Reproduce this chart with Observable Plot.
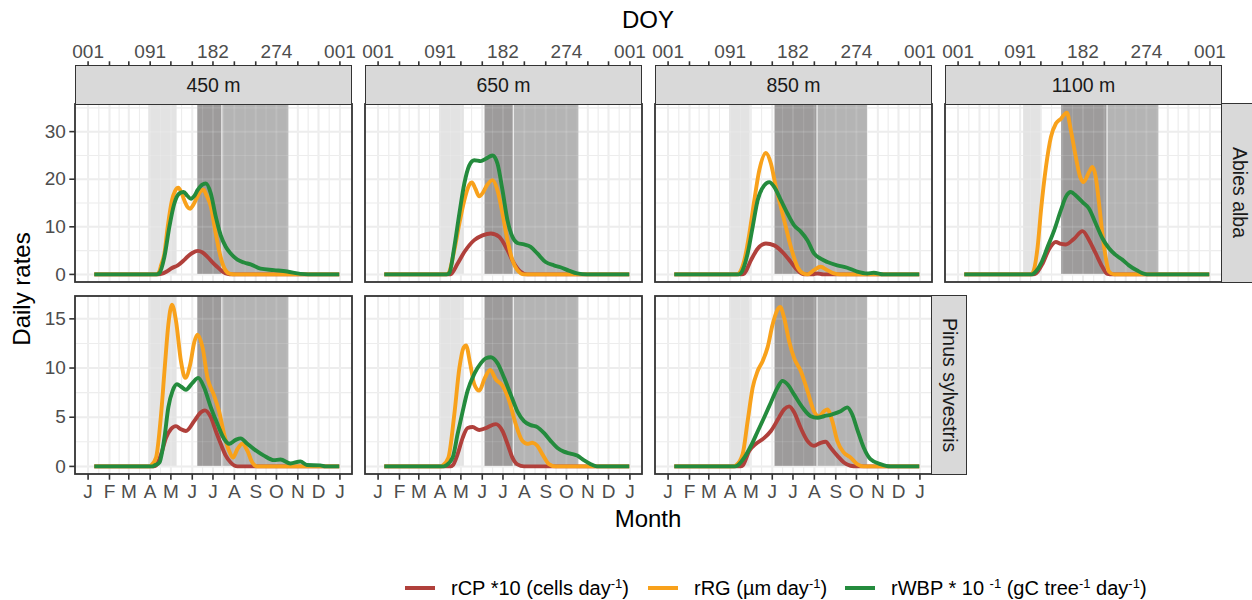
<!DOCTYPE html>
<html>
<head>
<meta charset="utf-8">
<script src="https://cdn.jsdelivr.net/npm/d3@7"></script>
<script src="https://cdn.jsdelivr.net/npm/@observablehq/plot@0.6"></script>
<style>
  body { margin: 0; background: #fff; }
  #chart { position: relative; width: 1252px; height: 600px; overflow: hidden;
           font-family: "Liberation Sans", Arial, Helvetica, sans-serif; background: #fff; }
  #chart svg { position: absolute; overflow: visible; }
  .strip { position: absolute; box-sizing: border-box; background: #d9d9d9; border: 1.8px solid #333;
           color: #1a1a1a; font-size: 19.5px; display: flex; align-items: center; justify-content: center; }
  .strip.right { writing-mode: vertical-rl; }
  .title { position: absolute; font-size: 24px; color: #000; white-space: nowrap; transform: translate(-50%, -50%); }
  .legend-key { position: absolute; width: 30px; height: 4px; }
  .legend-text { position: absolute; font-size: 20px; color: #000; white-space: nowrap; transform: translateY(-50%); }
  .legend-text sup { font-size: 13px; vertical-align: 7px; }
</style>
</head>
<body>
<div id="chart"></div>
<script>
// ---- facets ----
const elevations = ["450 m", "650 m", "850 m", "1100 m"];
const species = ["Abies alba", "Pinus sylvestris"];

// ---- series ----
const seriesNames = ["rCP", "rRG", "rWBP"];
const seriesColors = ["#b0403b", "#f8a11b", "#248b3d"];

// ---- axes ----
const monthStarts = [1, 32, 60, 91, 121, 152, 182, 213, 244, 274, 305, 335, 366];
const monthLabels = ["J", "F", "M", "A", "M", "J", "J", "A", "S", "O", "N", "D", "J"];
const doyBreaks = [1, 91, 182, 274, 366];
const doyLabels = ["001", "091", "182", "274", "001"];
const yBreaks = [[0, 10, 20, 30], [0, 5, 10, 15]];
const yLimits = [[0, 34], [0, 16.45]];

// ---- shaded phases per elevation (DOY start, end) ----
const shadeLight = [[89, 130], [90, 126], [90, 120], [96, 121]];
const shadeDark = [[160, 195], [156, 197], [156, 217], [151, 217]];
const shadeMid = [[195, 292], [197, 292], [217, 290], [217, 292]];

// ---- daily rates, [DOY, value]; Abies alba ----
const abies_rCP = [
  [[10,0],[100,0],[107,0.1],[115,0.6],[122,1.3],[131,1.9],[140,3.0],[145,3.7],[152,4.5],[160,4.95],[167,4.6],[174,3.7],[181,2.6],[188,1.6],[195,0.7],[203,0.1],[210,0],[365,0]],
  [[10,0],[104,0],[106.7,0.1],[116.3,2.3],[126,4.7],[140.4,7.2],[152.4,8.2],[164.4,8.6],[176.5,7.9],[188.5,5.1],[198.1,2.3],[207.7,0.55],[217.3,0],[365,0]],
  [[10,0],[108,0],[111.5,0.2],[121.2,3.0],[130.8,5.4],[142.8,6.5],[154.8,6.1],[166.8,4.7],[178.9,2.6],[188.5,0.9],[198.1,0],[210,0],[217.3,0.2],[226,0],[365,0]],
  [[10,0],[110,0],[113.9,0.2],[123.6,2.3],[133.2,5.4],[142.8,6.8],[150,6.4],[157.2,6.3],[169.2,7.5],[181.3,9.1],[190.9,7.2],[200.5,4.4],[210.1,1.6],[217.3,0.1],[225,0],[365,0]]
];
const abies_rRG = [
  [[10,0],[100,0],[104,0.5],[107,2],[111.6,4.4],[116.4,10],[122.6,15.6],[127,17.5],[131.8,18.2],[136,17.3],[140.4,15.6],[145,14.2],[149,13.8],[153,14.5],[157,15.6],[163,17.3],[168,17.8],[173,16.5],[179,14.2],[186,8.6],[193,3.7],[200,0.9],[207,0.1],[214,0],[365,0]],
  [[10,0],[100,0],[102.9,0.2],[111.5,5.1],[118.8,10.7],[126,15.6],[133,18.8],[137,19.3],[142,18.0],[147.6,16.4],[153,17.2],[158.7,18.7],[166.8,19.8],[174,17.7],[181.3,12.8],[188.5,7.2],[195.7,3.0],[202.9,0.9],[212.5,0],[365,0]],
  [[10,0],[101,0],[104.3,0.3],[111.5,3.0],[118.8,8.6],[126,15.6],[133.2,21.9],[142.8,25.5],[150,23.3],[157.2,18.4],[164.4,14.2],[171.6,10],[178.9,5.8],[188.5,1.6],[197.1,0.2],[202.9,0],[212.5,0.9],[222.1,1.6],[231.8,0.9],[241.4,0.2],[250,0],[365,0]],
  [[10,0],[106,0],[109.1,0.3],[116.3,5.8],[121.2,13.5],[128.4,22.6],[135.6,28.9],[142.8,31.7],[150,32.7],[158.7,34.0],[164.4,30.3],[171.6,24.7],[177.9,20.5],[182.7,19.4],[190.9,21.5],[195.7,22.6],[200.5,20.5],[205.3,14.9],[210.1,8.6],[214.9,3.7],[219.7,0.6],[226.9,0],[365,0]]
];
const abies_rWBP = [
  [[10,0],[100,0],[104.4,0.3],[111.6,3.7],[118.8,10],[126,14.9],[133.2,17],[139.5,17.3],[145,16.5],[150,15.9],[155,16.5],[159.7,17.7],[166,18.8],[171.7,19.1],[178.9,17],[186.1,12.1],[193.3,8.2],[200.5,5.8],[207.7,4.4],[217.4,3.1],[227,2.5],[236.6,2.1],[251,1.2],[270.3,0.9],[289.5,0.6],[308.7,0.1],[320,0],[365,0]],
  [[10,0],[100,0],[104.3,0.3],[111.5,5.8],[118.8,12.8],[126,19.1],[133.2,22.9],[140.4,24],[150,23.8],[157.2,24.3],[166.8,25],[174,23.3],[181.3,17.7],[188.5,11.4],[195.7,7.9],[202.9,6.6],[212.5,6.3],[222.1,5.8],[231.8,4.4],[243.8,2.6],[255.8,1.9],[265.4,1.5],[277.4,0.8],[289.5,0.2],[303.9,0],[365,0]],
  [[10,0],[103,0],[106.7,0.3],[116.3,4.4],[123.6,10],[130.8,15.6],[140.4,18.7],[147.6,19.4],[154.8,18.4],[164.4,15.6],[174,12.8],[183.7,10.3],[193.3,9.0],[202.9,7.2],[212.5,4.4],[222.1,3.3],[231.8,2.6],[246.2,1.9],[260.6,1.4],[275,0.6],[289.5,0.2],[299.1,0.35],[313.5,0],[365,0]],
  [[10,0],[108,0],[111.5,0.3],[121.2,2.3],[130.8,5.8],[140.4,9.3],[150,13.5],[157.2,16.3],[164.4,17.3],[171.6,16.6],[181.3,15.2],[190.9,13.8],[200.5,10.7],[210.1,7.6],[219.7,5.5],[229.3,4.1],[239,3.1],[248.6,1.9],[260.6,0.8],[275,0],[365,0]]
];

// ---- daily rates, [DOY, value]; Pinus sylvestris (no 1100 m stand) ----
const pinus_rCP = [
  [[10,0],[96,0],[99.5,0.1],[106.8,1.25],[114,2.9],[121.2,3.8],[128.4,4.1],[135,3.8],[142.8,3.6],[154.8,4.6],[164.5,5.5],[170.2,5.7],[178.9,5.0],[186.1,3.6],[193.3,2.3],[200.5,1.1],[207.7,0.4],[217.4,0],[365,0]],
  [[10,0],[106,0],[109.1,0.1],[116.3,1.25],[123.6,2.9],[130.8,3.9],[138,4.0],[147.6,3.7],[157.2,3.9],[171.6,4.3],[181.3,3.6],[188.5,2.3],[195.7,0.9],[202.9,0.2],[212.5,0],[365,0]],
  [[10,0],[106,0],[109.1,0.1],[118.8,1.6],[128.4,2.3],[140.4,2.9],[150,3.6],[162,5.0],[169.2,5.8],[176.5,6.1],[183.7,5.5],[193.3,3.9],[202.9,2.6],[212.5,2.1],[222.1,2.4],[229.3,2.5],[236.6,1.9],[246.2,1.1],[255.8,0.4],[265.4,0.07],[275,0],[365,0]]
];
const pinus_rRG = [
  [[10,0],[90,0],[92.3,0.1],[99.5,0.9],[106.8,5.3],[112.5,10.4],[117.3,14.4],[122.6,16.45],[128.4,14.8],[135.6,10.7],[141.9,9.0],[149.1,10.4],[154.8,12.6],[159.7,13.4],[166.9,12.1],[174.1,9.0],[183.7,7.2],[190.9,5.6],[198.1,3.3],[205.3,1.6],[211.1,0.9],[217.4,1.76],[224.6,2.3],[231.8,1.6],[239,0.4],[246.2,0],[365,0]],
  [[10,0],[92,0],[94.7,0.1],[102.9,0.9],[111.5,5.3],[118.8,10.0],[125,12.1],[128.4,12.3],[134.6,10.4],[140.4,8.35],[147.6,7.7],[155.8,9.0],[163.5,9.8],[171.6,8.85],[181.3,8.2],[190.9,6.7],[200.5,4.3],[210.1,2.6],[217.3,2.3],[224.5,2.4],[231.8,2.1],[239,1.25],[248.6,0.24],[258.2,0],[365,0]],
  [[10,0],[96,0],[99.5,0.1],[109.1,1.25],[116.3,4.6],[123.6,8.0],[130.8,9.7],[138,10.7],[145.2,12.1],[152.4,14.4],[158.7,15.8],[163.5,16.2],[169.2,15.1],[176.5,12.7],[183.7,11.0],[193.3,9.7],[202.9,7.7],[212.5,5.6],[219.7,5.1],[226.9,5.6],[231.8,5.8],[239,4.6],[246.2,2.6],[255.8,1.4],[265.4,0.9],[275,0.24],[284.6,0],[365,0]]
];
const pinus_rWBP = [
  [[10,0],[94,0],[97.1,0.1],[104.4,0.4],[111.6,2.9],[117.3,6.0],[123.6,7.7],[129.8,8.35],[136,8.1],[142.8,7.8],[152.4,8.5],[160.6,9.0],[169.3,8.0],[178.9,6.0],[188.5,4.3],[198.1,2.8],[205.3,2.3],[215,2.7],[222.2,2.85],[231.8,2.3],[241.4,1.76],[255.8,1.1],[270.2,0.64],[279.9,0.7],[294.3,0.3],[308.7,0.5],[318.3,0.14],[337.6,0.1],[345,0],[365,0]],
  [[10,0],[96,0],[99.5,0.1],[109.1,0.9],[116.3,3.3],[123.6,5.6],[130.8,7.7],[140.4,9.4],[150,10.5],[157.2,11.0],[164.4,11.1],[174,10.5],[183.7,9.0],[193.3,7.3],[202.9,5.6],[212.5,4.6],[222.1,4.2],[231.8,4.0],[241.4,3.4],[251,2.6],[260.6,1.9],[270.2,1.5],[279.8,1.3],[289.5,1.1],[299.1,0.64],[308.7,0.24],[318.3,0],[365,0]],
  [[10,0],[98,0],[101.9,0.1],[111.5,0.9],[121.2,2.1],[130.8,3.55],[140.4,5.0],[150,6.5],[159.6,8.0],[166.8,8.7],[174,8.35],[183.7,7.3],[195.7,6.0],[207.7,5.1],[217.3,4.95],[226.9,5.1],[239,5.3],[251,5.6],[260.6,6.0],[267.8,5.3],[275,3.8],[284.6,1.9],[294.3,0.74],[308.7,0.24],[323.1,0],[365,0]]
];

const seriesBySpecies = [
  [abies_rCP, abies_rRG, abies_rWBP],
  [pinus_rCP, pinus_rRG, pinus_rWBP]
];

// ---- layout ----
const chart = document.getElementById("chart");
const font = '"Liberation Sans", Arial, Helvetica, sans-serif';
const colLeft = [75, 365, 655, 945];
const panelW = 277, panelH = 178;
const rowTop = [104, 296];
const stripTop = 66;

// ggplot-style 5% expansion of the data range
const expand = ([a, b]) => [a - 0.05 * (b - a), b + 0.05 * (b - a)];
const xDomain = expand([1, 366]);
const mid = (arr) => arr.slice(1).map((v, i) => (v + arr[i]) / 2);
const xMinor = mid(monthStarts);
const doyMap = new Map(doyBreaks.map((d, i) => [d, doyLabels[i]]));
const monthMap = new Map(monthStarts.map((d, i) => [d, monthLabels[i]]));

function drawPanel(r, c) {
  const yDomain = expand(yLimits[r]);
  const majors = yBreaks[r];
  const step = majors[1] - majors[0];
  const yMinor = d3.range(majors[0] + step / 2, yDomain[1], step);
  const mL = c === 0 ? 75 : 24, mR = 24;
  const svgTop = r === 0 ? 0 : rowTop[1] - 4;
  const frameTop = rowTop[r] - svgTop;
  const frameBottom = frameTop + panelH;
  const mT = r === 0 ? stripTop : 4;
  const mB = r === 0 ? 4 : 44;
  const [yLo, yHi] = yDomain;

  const vGrid = (vals, sw, stroke, op) => Plot.ruleX(vals.map(v => ({v, lo: yLo, hi: yHi})),
    {x: "v", y1: "lo", y2: "hi", stroke, strokeWidth: sw, strokeOpacity: op});
  const hGrid = (vals, sw, stroke, op) => Plot.ruleY(vals.map(v => ({v, lo: xDomain[0], hi: xDomain[1]})),
    {y: "v", x1: "lo", x2: "hi", stroke, strokeWidth: sw, strokeOpacity: op});

  const shades = [
    {x1: shadeLight[c][0], x2: shadeLight[c][1], fill: "#e3e3e3"},
    {x1: shadeMid[c][0], x2: shadeMid[c][1], fill: "#b4b4b4"},
    {x1: shadeDark[c][0], x2: shadeDark[c][1], fill: "#9d9b9b"}
  ].map(d => ({...d, y1: 0, y2: yHi}));

  const marks = [
    vGrid(xMinor, 1.1, "#ebebeb", 1),
    hGrid(yMinor, 1.1, "#ebebeb", 1),
    vGrid(monthStarts, 2, "#ebebeb", 1),
    hGrid(majors, 2, "#ebebeb", 1),
    Plot.rect(shades, {x1: "x1", x2: "x2", y1: "y1", y2: "y2", fill: "fill"}),
    vGrid(xMinor, 1.1, "#ffffff", 0.12),
    hGrid(yMinor, 1.1, "#ffffff", 0.12),
    vGrid(monthStarts, 2, "#ffffff", 0.12),
    hGrid(majors, 2, "#ffffff", 0.12),
    Plot.ruleX([{v: shadeDark[c][1], lo: 0, hi: yHi}], {x: "v", y1: "lo", y2: "hi", stroke: "#ffffff", strokeWidth: 1, strokeOpacity: 0.85})
  ];

  seriesBySpecies[r].forEach((series, k) => {
    marks.push(Plot.line(series[c], {
      x: d => d[0], y: d => d[1], stroke: seriesColors[k], strokeWidth: 3.9,
      curve: "monotone-x", strokeLinejoin: "round", strokeLinecap: "butt"
    }));
  });

  marks.push(Plot.rect([{x1: xDomain[0], x2: xDomain[1], y1: yLo, y2: yHi}],
    {x1: "x1", x2: "x2", y1: "y1", y2: "y2", fill: "none", stroke: "#333333", strokeWidth: 1.8}));

  const axisStyle = {tickSize: 5.7, stroke: "#333333", fill: "#4d4d4d", strokeWidth: 1.6, fontSize: 19, label: null};
  if (c === 0) {
    marks.push(Plot.axisY({...axisStyle, anchor: "left", ticks: majors, tickPadding: 4}));
  }
  if (r === 0) {
    marks.push(Plot.axisX({...axisStyle, anchor: "top", ticks: monthStarts, tickPadding: 3,
      tickFormat: d => doyMap.get(d) ?? ""}));
  } else {
    marks.push(Plot.axisX({...axisStyle, anchor: "bottom", ticks: monthStarts, tickPadding: 4,
      tickFormat: d => monthMap.get(d) ?? ""}));
  }

  const svg = Plot.plot({
    width: mL + panelW + mR,
    height: frameBottom + mB,
    marginLeft: mL, marginRight: mR, marginTop: mT, marginBottom: mB,
    x: {domain: xDomain},
    y: {domain: yDomain, range: [frameBottom, frameTop], ...(c === 0 ? {} : {axis: null})},
    style: {fontFamily: font, fontSize: "19px", background: "transparent", overflow: "visible"},
    marks
  });
  svg.style.left = (colLeft[c] - mL) + "px";
  svg.style.top = svgTop + "px";
  chart.appendChild(svg);
}

const panels = [[0, 0], [0, 1], [0, 2], [0, 3], [1, 0], [1, 1], [1, 2]];
panels.forEach(([r, c]) => drawPanel(r, c));

// ---- strips ----
function addDiv(cls, css, html) {
  const el = document.createElement("div");
  el.className = cls;
  Object.assign(el.style, css);
  el.innerHTML = html;
  chart.appendChild(el);
  return el;
}
elevations.forEach((e, c) => addDiv("strip", {left: colLeft[c] + "px", top: (stripTop - 1) + "px",
  width: panelW + "px", height: (rowTop[0] - stripTop + 2) + "px"}, e));
addDiv("strip right", {left: (colLeft[3] + panelW - 1) + "px", top: (rowTop[0] - 1) + "px",
  width: "36px", height: (panelH + 2) + "px"}, species[0]);
addDiv("strip right", {left: (colLeft[2] + panelW - 1) + "px", top: (rowTop[1] - 1) + "px",
  width: "36px", height: (panelH + 2) + "px"}, species[1]);

// ---- titles ----
addDiv("title", {left: "648px", top: "20px"}, "DOY");
addDiv("title", {left: "648px", top: "519px"}, "Month");
addDiv("title", {left: "22px", top: "289px", transform: "translate(-50%, -50%) rotate(-90deg)"}, "Daily rates");

// ---- legend ----
const legendLabels = [
  "rCP *10 (cells day<sup>-1</sup>)",
  "rRG (µm day<sup>-1</sup>)",
  "rWBP * 10 <sup>-1</sup> (gC tree<sup>-1</sup> day<sup>-1</sup>)"
];
const legendKeyX = [405, 648, 845];
legendLabels.forEach((lab, k) => {
  addDiv("legend-key", {left: legendKeyX[k] + "px", top: "586px", background: seriesColors[k]}, "");
  addDiv("legend-text", {left: (legendKeyX[k] + 46) + "px", top: "588px"}, lab);
});
</script>
</body>
</html>
